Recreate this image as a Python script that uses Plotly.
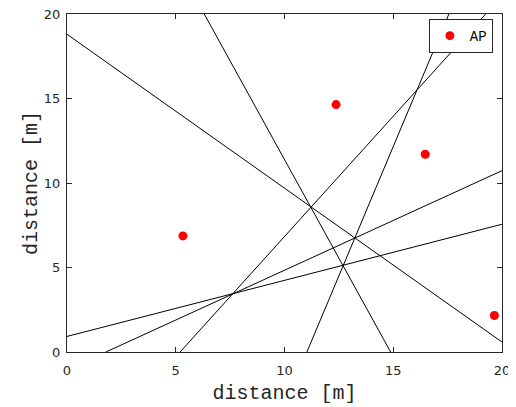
import plotly.graph_objects as go

# access points
ap_x = [5.33, 12.37, 16.47, 19.65]
ap_y = [6.87, 14.64, 11.70, 2.16]

# lines, each given by two end points (x0, y0) -> (x1, y1)
line_x0 = [0.0, 6.31, 11.03, 5.20, 1.79, 0.0]
line_y0 = [18.8, 20.0, 0.0, 0.0, 0.0, 0.92]
line_x1 = [20.0, 14.88, 17.56, 19.25, 20.0, 20.0]
line_y1 = [0.59, 0.0, 20.0, 20.0, 10.73, 7.56]

lx, ly = [], []
for a, b, c, d in zip(line_x0, line_y0, line_x1, line_y1):
    lx += [a, c, None]
    ly += [b, d, None]

fig = go.Figure()
fig.add_trace(go.Scatter(x=lx, y=ly, mode="lines", line=dict(color="black", width=1),
                         showlegend=False, hoverinfo="skip"))
fig.add_trace(go.Scatter(x=ap_x, y=ap_y, mode="markers", name="AP",
                         marker=dict(color="red", size=9)))

axis = dict(range=[0, 20], tickvals=[0, 5, 10, 15, 20], showgrid=False, zeroline=False,
            showline=True, linecolor="#262626", linewidth=1, mirror="ticks",
            ticks="inside", ticklen=5, tickcolor="#262626", automargin=False,
            ticklabeloverflow="allow",
            tickfont=dict(family="DejaVu Sans", size=13, color="#262626"))

# the page body adds 8px around the figure, so the figure is a bit smaller
fig.update_layout(
    width=508, height=397,
    margin=dict(l=59, r=14, t=6, b=53),
    plot_bgcolor="white", paper_bgcolor="white",
    xaxis=dict(axis, ticklabelstandoff=6,
               title=dict(text="distance [m]", standoff=15,
                          font=dict(family="Liberation Mono", size=20, color="#262626"))),
    yaxis=dict(axis, ticklabelstandoff=3,
               title=dict(text="distance [m]", standoff=0,
                          font=dict(family="Liberation Mono", size=20, color="#262626"))),
    legend=dict(x=0.979, y=0.985, xanchor="right", yanchor="top",
                bgcolor="white", bordercolor="#262626", borderwidth=1,
                font=dict(family="Liberation Mono", size=14, color="black")),
)

fig.write_html("out.html")
